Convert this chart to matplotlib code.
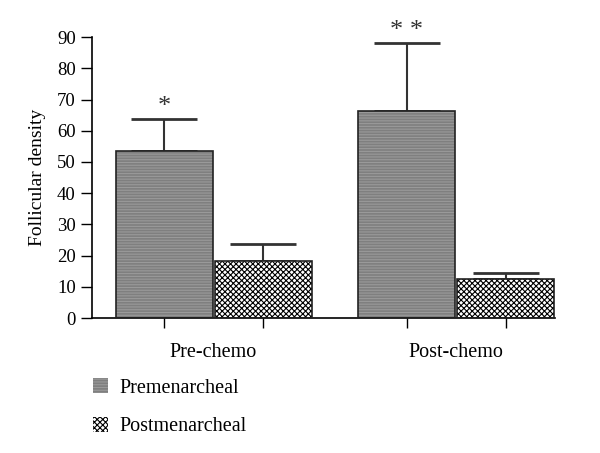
import numpy as np
import matplotlib.pyplot as plt
from matplotlib.patches import Patch

plt.rcParams['font.family'] = ['Liberation Serif', 'DejaVu Serif']
plt.rcParams['hatch.linewidth'] = 0.8

groups = ['Pre-chemo', 'Post-chemo']
pre_vals = [53.5, 66.3]
pre_err = [10.3, 21.9]
post_vals = [18.2, 12.4]
post_err = [5.6, 2.1]
stars = ['*', '* *']

pos_pre = np.array([0.0, 2.45])
pos_post = pos_pre + 1.0
w = 0.98

fig = plt.figure(figsize=(6, 4.53), dpi=100)
ax = fig.add_axes([0.153, 0.298, 0.772, 0.62])

# premenarcheal: gray with faint horizontal lines
ax.bar(pos_pre, pre_vals, w, color='#7f7f7f', edgecolor='#9a9a9a', hatch='------', linewidth=0, zorder=2)
ax.bar(pos_pre, pre_vals, w, fill=False, edgecolor='#222222', linewidth=1.2, zorder=3)
# postmenarcheal: black/white checker
ax.bar(pos_post, post_vals, w, color='white', edgecolor='black', hatch='xxxxxx', linewidth=0, zorder=2)
ax.bar(pos_post, post_vals, w, fill=False, edgecolor='#222222', linewidth=1.2, zorder=3)

ax.errorbar(pos_pre, pre_vals, yerr=[np.zeros(2), pre_err], fmt='none', ecolor='#333333',
            elinewidth=1.5, capsize=24, capthick=2, zorder=1)
ax.errorbar(pos_post, post_vals, yerr=[np.zeros(2), post_err], fmt='none', ecolor='#333333',
            elinewidth=1.5, capsize=24, capthick=2, zorder=1)

for x, v, e, s in zip(pos_pre, pre_vals, pre_err, stars):
    ax.text(x, v + e + 0.2, s, ha='center', va='bottom', fontsize=19, color='#333333')

ax.set_xlim(-0.73, 3.95)
ax.set_ylim(0, 90)
ax.set_yticks(np.arange(0, 91, 10))
ax.set_xticks(np.concatenate([pos_pre, pos_post]))
ax.set_xticklabels([])
ax.set_xticks((pos_pre + pos_post) / 2, minor=True)
ax.set_xticklabels(groups, minor=True)
ax.tick_params(axis='x', which='minor', length=0, pad=18, labelsize=14.5)
ax.tick_params(axis='x', which='major', direction='out', length=7, width=1)
ax.tick_params(axis='y', direction='out', length=8, width=1, labelsize=13.5)
ax.spines['top'].set_visible(False)
ax.spines['right'].set_visible(False)
ax.spines['left'].set_linewidth(1.2)
ax.spines['bottom'].set_linewidth(1.2)
ax.set_ylabel('Follicular density', fontsize=14, labelpad=8)

handles = [Patch(facecolor='#7f7f7f', edgecolor='#9a9a9a', hatch='------', linewidth=0),
           Patch(facecolor='white', edgecolor='black', hatch='xxxxxx', linewidth=0)]
fig.legend(handles, ['Premenarcheal', 'Postmenarcheal'], loc='upper left',
           bbox_to_anchor=(0.125, 0.205), frameon=False, fontsize=14.5,
           handlelength=0.75, handleheight=0.75, labelspacing=0.95, handletextpad=0.55)

fig.savefig('out.png', dpi=100)
